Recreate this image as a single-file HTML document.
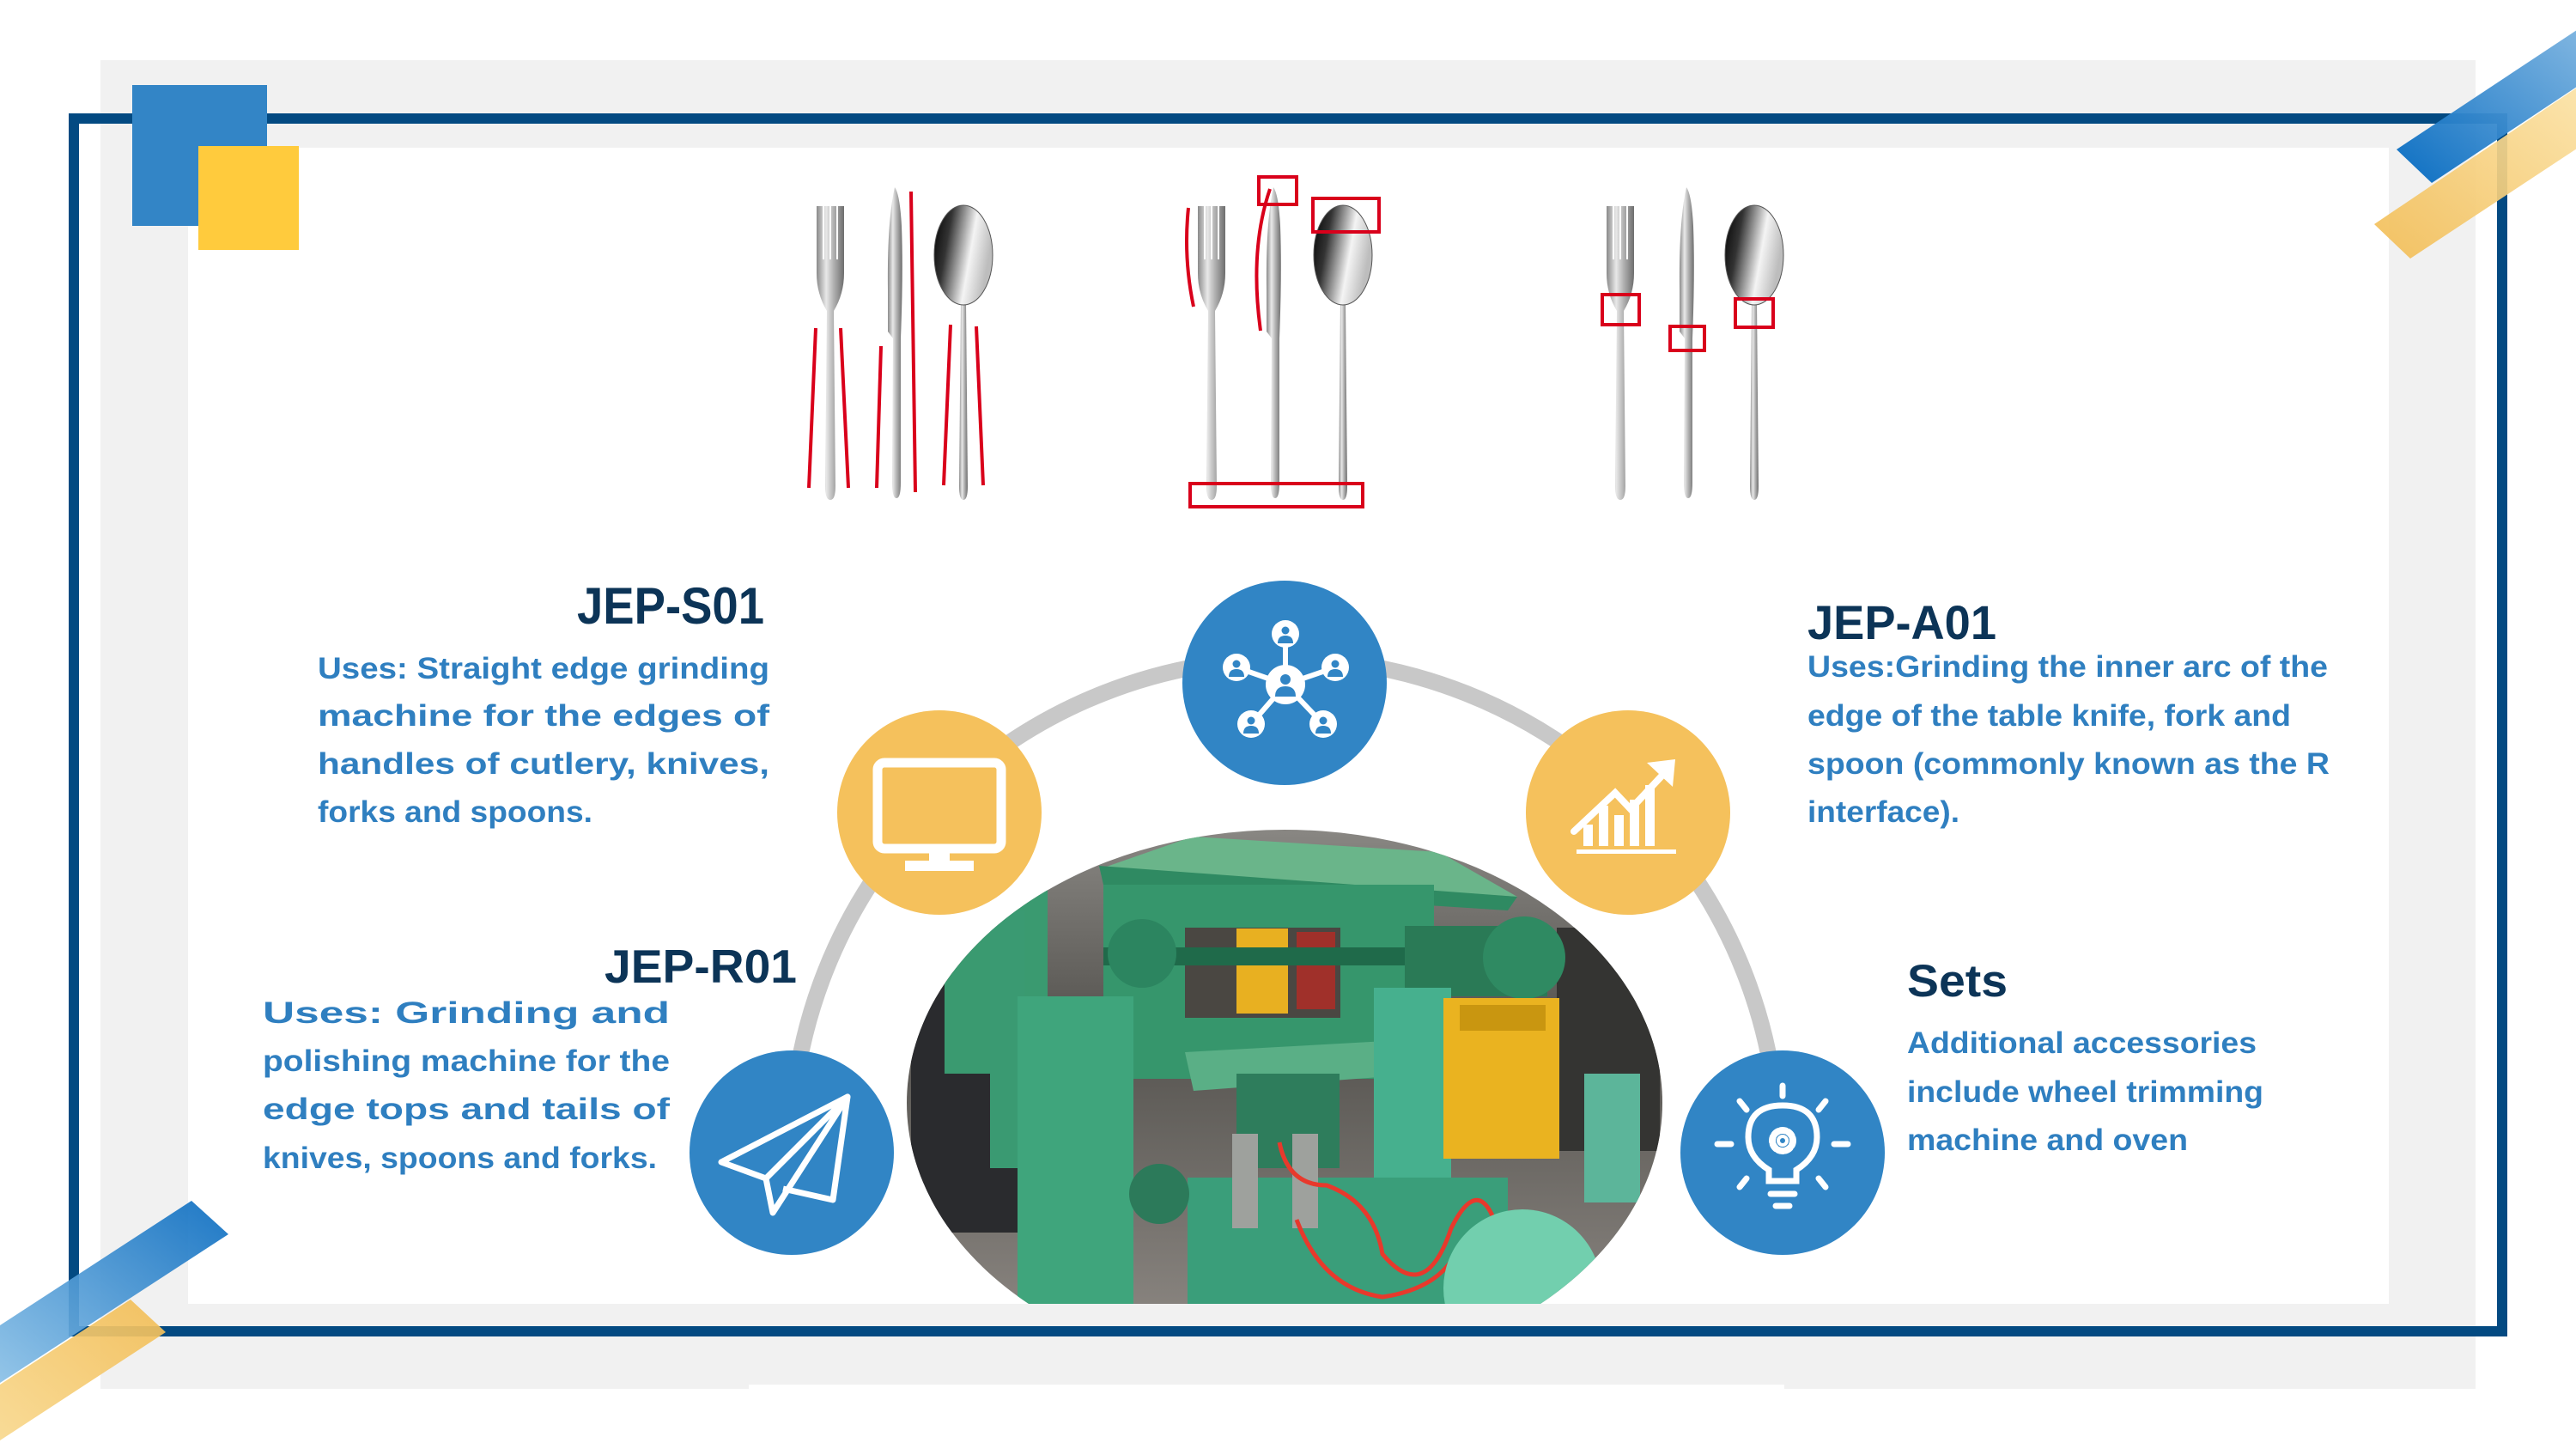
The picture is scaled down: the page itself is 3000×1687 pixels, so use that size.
<!DOCTYPE html>
<html><head><meta charset="utf-8"><style>html,body{margin:0;padding:0;background:#fff}svg{display:block}</style></head>
<body>
<svg width="3000" height="1687" viewBox="0 0 3000 1687" xmlns="http://www.w3.org/2000/svg" font-family="Liberation Sans, Arial, sans-serif" font-weight="bold">
<defs>
<linearGradient id="silver" x1="0" x2="1" y1="0" y2="0"><stop offset="0" stop-color="#8a8a8a"/><stop offset="0.35" stop-color="#e8e8e8"/><stop offset="0.6" stop-color="#b5b5b5"/><stop offset="1" stop-color="#6e6e6e"/></linearGradient>
<linearGradient id="bowl" x1="0" x2="1" y1="0" y2="0.3"><stop offset="0" stop-color="#000"/><stop offset="0.3" stop-color="#333"/><stop offset="0.7" stop-color="#f4f4f4"/><stop offset="1" stop-color="#bdbdbd"/></linearGradient>
<linearGradient id="bTR" x1="0" x2="1" y1="1" y2="0"><stop offset="0" stop-color="#0068c0"/><stop offset="1" stop-color="#7db4e0"/></linearGradient>
<linearGradient id="yTR" x1="0" x2="1" y1="1" y2="0"><stop offset="0" stop-color="#f2bd55"/><stop offset="1" stop-color="#fbe3a8"/></linearGradient>
<linearGradient id="bBL" x1="1" x2="0" y1="0" y2="1"><stop offset="0" stop-color="#0a6cc0"/><stop offset="1" stop-color="#8ac0e6"/></linearGradient>
<linearGradient id="yBL" x1="1" x2="0" y1="0" y2="1"><stop offset="0" stop-color="#f2bd55"/><stop offset="1" stop-color="#f8d88e"/></linearGradient>
<linearGradient id="floor" x1="0" x2="0" y1="0" y2="1"><stop offset="0" stop-color="#8a8884"/><stop offset="0.4" stop-color="#55534f"/><stop offset="1" stop-color="#8d8883"/></linearGradient>
<clipPath id="cl1"><rect x="0" y="0" width="3000" height="1518"/></clipPath>
<clipPath id="cl2"><ellipse cx="1496" cy="1284" rx="440" ry="318"/></clipPath>
<g id="f"><path d="M-16,0 L-16,78 Q-16,102 -4,122 L-6,326 Q-6,342 0,342 Q6,342 6,326 L4,122 Q16,102 16,78 L16,0 Z" fill="url(#silver)"/><rect x="-9" y="0" width="2" height="62" fill="#fff"/><rect x="-1" y="0" width="2" height="62" fill="#fff"/><rect x="7" y="0" width="2" height="62" fill="#fff"/></g>
<g id="k"><path d="M-2,0 Q-11,40 -10,120 L-10,168 L-4,176 L-5,344 Q-5,362 0,362 Q5,362 5,344 L5,176 Q8,100 6,45 Q4,8 -2,0 Z" fill="url(#silver)"/></g>
<g id="s"><path d="M-3,110 L-5,326 Q-5,342 0,342 Q5,342 5,326 L3,110 Z" fill="url(#silver)"/><ellipse cx="0" cy="57" rx="34" ry="58" fill="url(#bowl)" stroke="#555" stroke-width="1"/></g>
</defs>

<rect x="117" y="70" width="2766" height="1547" fill="#f1f1f1"/>
<rect x="872" y="1612" width="1206" height="8" fill="#fff"/>
<rect x="219" y="172" width="2563" height="1346" fill="#fff"/>
<rect x="86" y="138" width="2828" height="1412" fill="none" stroke="#034a82" stroke-width="12"/>
<rect x="154" y="99" width="157" height="164" fill="#3385c6"/>
<rect x="231" y="170" width="117" height="121" fill="#ffcb3d"/>

<polygon points="2791,174 2832,213 3010,95 3010,29" fill="url(#bTR)" opacity="0.95"/>
<polygon points="2765,261 2807,301 3010,167 3010,96" fill="url(#yTR)" opacity="0.92"/>
<polygon points="223,1398 266,1437 0,1610 0,1543" fill="url(#bBL)" opacity="0.92"/>
<polygon points="152,1513 193,1551 0,1677 0,1612" fill="url(#yBL)" opacity="0.92"/>

<use href="#f" transform="translate(967,240)"/>
<use href="#k" transform="translate(1044,218)"/>
<use href="#s" transform="translate(1122,240)"/>
<use href="#f" transform="translate(1411,240)"/>
<use href="#k" transform="translate(1485,218)"/>
<use href="#s" transform="translate(1564,240)"/>
<use href="#f" transform="translate(1887,240)"/>
<use href="#k" transform="translate(1966,218)"/>
<use href="#s" transform="translate(2043,240)"/>
<g stroke="#d9001b" stroke-width="4" fill="none">
<line x1="942" y1="568" x2="950" y2="382"/><line x1="988" y1="568" x2="979" y2="382"/>
<line x1="1021" y1="568" x2="1026" y2="403"/><line x1="1066" y1="573" x2="1061" y2="223"/>
<line x1="1099" y1="565" x2="1107" y2="378"/><line x1="1145" y1="565" x2="1137" y2="380"/>
<rect x="1466" y="206" width="44" height="32"/><rect x="1529" y="231" width="77" height="39"/>
<rect x="1386" y="563" width="201" height="27"/>
<path d="M1384,242 Q1378,300 1390,357"/><path d="M1479,220 Q1455,290 1468,385"/>
<rect x="1866" y="343" width="43" height="35"/><rect x="1945" y="380" width="40" height="28"/><rect x="2021" y="348" width="44" height="33"/>
</g>

<path d="M921,1342 A575,575 0 0 1 2071,1342" fill="none" stroke="#c8c8c8" stroke-width="19"/>

<g clip-path="url(#cl1)"><g clip-path="url(#cl2)">
<rect x="1050" y="960" width="900" height="600" fill="url(#floor)"/>
<rect x="1813" y="1080" width="120" height="260" fill="#343432"/>
<rect x="1061" y="1131" width="127" height="304" fill="#2a2b2e"/>
<rect x="1100" y="1020" width="120" height="230" fill="#3a9a70"/>
<polygon points="1389,974 1676,992 1767,1044 1280,1012" fill="#6ab58a"/>
<polygon points="1280,1008 1767,1044 1756,1060 1285,1030" fill="#2f8a62"/>
<rect x="1285" y="1030" width="385" height="226" fill="#36966c"/>
<rect x="1380" y="1080" width="181" height="105" fill="#4a4742"/>
<rect x="1440" y="1081" width="60" height="99" fill="#e8b021"/>
<rect x="1510" y="1085" width="45" height="90" fill="#a0302a"/>
<rect x="1153" y="1060" width="40" height="300" fill="#3a9a72"/>
<rect x="1185" y="1160" width="135" height="360" fill="#3fa57c"/>
<rect x="1285" y="1103" width="511" height="21" fill="#1f6a4a"/>
<circle cx="1330" cy="1110" r="40" fill="#2c8560"/>
<rect x="1636" y="1078" width="166" height="82" fill="#2a7a56"/>
<circle cx="1775" cy="1115" r="48" fill="#2f8a62"/>
<polygon points="1380,1225 1650,1210 1660,1250 1390,1270" fill="#5aaf86"/>
<rect x="1440" y="1250" width="120" height="110" fill="#2e7d5c"/>
<rect x="1600" y="1150" width="90" height="300" fill="#46b08e"/>
<rect x="1681" y="1162" width="135" height="187" fill="#eab320"/>
<rect x="1700" y="1170" width="100" height="30" fill="#c99610"/>
<rect x="1383" y="1371" width="373" height="150" fill="#3a9e7a"/>
<rect x="1435" y="1320" width="30" height="110" fill="#9ea19d"/>
<rect x="1505" y="1320" width="30" height="110" fill="#9ea19d"/>
<circle cx="1350" cy="1390" r="35" fill="#2c7a5a"/>
<path d="M1490,1330 Q1500,1380 1545,1380 Q1600,1400 1610,1460 Q1660,1520 1690,1430 Q1720,1370 1740,1420" fill="none" stroke="#e8392c" stroke-width="5"/>
<path d="M1510,1420 Q1540,1500 1610,1510 Q1680,1500 1700,1450" fill="none" stroke="#e8392c" stroke-width="5"/>
<rect x="1845" y="1250" width="65" height="150" fill="#5cb59a"/>
<circle cx="1773" cy="1500" r="92" fill="#72cfae"/>
</g></g>

<circle cx="1496" cy="795" r="119" fill="#3185c5"/>
<circle cx="1094" cy="946" r="119" fill="#f5c15c"/>
<circle cx="1896" cy="946" r="119" fill="#f5c15c"/>
<circle cx="922" cy="1342" r="119" fill="#3185c5"/>
<circle cx="2076" cy="1342" r="119" fill="#3185c5"/>

<g transform="translate(1497,797)">
<g stroke="#fff" stroke-width="6"><line x1="0" y1="0" x2="0" y2="-59"/><line x1="0" y1="0" x2="-57" y2="-20"/><line x1="0" y1="0" x2="58" y2="-20"/><line x1="0" y1="0" x2="-40" y2="46"/><line x1="0" y1="0" x2="44" y2="46"/></g>
<g fill="#fff"><circle r="23"/><circle cx="0" cy="-59" r="16"/><circle cx="-57" cy="-20" r="16"/><circle cx="58" cy="-20" r="16"/><circle cx="-40" cy="46" r="16"/><circle cx="44" cy="46" r="16"/></g>
<g fill="#3185c5">
<circle cx="0" cy="-6" r="6"/><path d="M-12,14 Q-12,2 0,2 Q12,2 12,14 Z"/>
<circle cx="0" cy="-63" r="4.5"/><path d="M-9,-48 Q-9,-57 0,-57 Q9,-57 9,-48 Z"/>
<circle cx="-57" cy="-24" r="4.5"/><path d="M-66,-9 Q-66,-18 -57,-18 Q-48,-18 -48,-9 Z"/>
<circle cx="58" cy="-24" r="4.5"/><path d="M49,-9 Q49,-18 58,-18 Q67,-18 67,-9 Z"/>
<circle cx="-40" cy="42" r="4.5"/><path d="M-49,57 Q-49,48 -40,48 Q-31,48 -31,57 Z"/>
<circle cx="44" cy="42" r="4.5"/><path d="M35,57 Q35,48 44,48 Q53,48 53,57 Z"/>
</g></g>

<g transform="translate(1094,946)" fill="#fff">
<rect x="-72" y="-58" width="144" height="100" rx="8" fill="none" stroke="#fff" stroke-width="11"/>
<rect x="-12" y="42" width="24" height="16"/><rect x="-40" y="56" width="80" height="12"/>
</g>

<g transform="translate(1896,946)" fill="#fff">
<rect x="-60" y="43" width="116" height="5"/>
<rect x="-52" y="14" width="11" height="25"/><rect x="-34" y="-8" width="11" height="47"/><rect x="-16" y="3" width="11" height="36"/><rect x="2" y="-15" width="11" height="54"/><rect x="20" y="-32" width="11" height="71"/>
<polyline points="-63,22 -15,-23 3,-4 48,-52" fill="none" stroke="#fff" stroke-width="8" stroke-linecap="round"/>
<polygon points="55,-62 52,-30 22,-58"/>
</g>

<g transform="translate(922,1342)" fill="none" stroke="#fff" stroke-width="7" stroke-linejoin="round">
<polygon points="65,-65 -82,11 -30,30"/>
<polyline points="-30,30 -22,70 65,-65 48,55 -10,42"/>
</g>

<g transform="translate(2076,1342)" fill="none" stroke="#fff" stroke-width="7" stroke-linecap="round">
<path d="M-16,33 L-16,20 Q-40,5 -40,-18 Q-40,-55 0,-55 Q40,-55 40,-18 Q40,5 16,20 L16,33 Z"/>
<line x1="-14" y1="48" x2="14" y2="48"/><line x1="-8" y1="62" x2="8" y2="62"/>
<line x1="0" y1="-78" x2="0" y2="-66"/><line x1="-76" y1="-10" x2="-60" y2="-10"/><line x1="60" y1="-10" x2="76" y2="-10"/>
<line x1="-50" y1="-60" x2="-42" y2="-50"/><line x1="50" y1="-60" x2="42" y2="-50"/>
<line x1="-50" y1="40" x2="-42" y2="30"/><line x1="50" y1="40" x2="42" y2="30"/>
<circle cx="0" cy="-14" r="12" stroke-width="8" stroke-dasharray="6 3"/>
<circle cx="0" cy="-14" r="5" stroke-width="4"/>
</g>

<g fill="#0c3457">
<text x="672" y="726" font-size="60" textLength="218" lengthAdjust="spacingAndGlyphs">JEP-S01</text>
<text x="2105" y="744" font-size="56" textLength="220" lengthAdjust="spacingAndGlyphs">JEP-A01</text>
<text x="704" y="1144" font-size="55" textLength="224" lengthAdjust="spacingAndGlyphs">JEP-R01</text>
<text x="2221" y="1160" font-size="53" textLength="117" lengthAdjust="spacingAndGlyphs">Sets</text>
</g>
<g fill="#2f7fc0" font-size="35">
<text x="370" y="790" textLength="526" lengthAdjust="spacingAndGlyphs">Uses: Straight edge grinding</text>
<text x="370" y="845" textLength="526" lengthAdjust="spacingAndGlyphs">machine for the edges of</text>
<text x="370" y="901" textLength="526" lengthAdjust="spacingAndGlyphs">handles of cutlery, knives,</text>
<text x="370" y="957" textLength="320" lengthAdjust="spacingAndGlyphs">forks and spoons.</text>

<text x="2105" y="788" textLength="606" lengthAdjust="spacingAndGlyphs">Uses:Grinding the inner arc of the</text>
<text x="2105" y="845" textLength="563" lengthAdjust="spacingAndGlyphs">edge of the table knife, fork and</text>
<text x="2105" y="901" textLength="608" lengthAdjust="spacingAndGlyphs">spoon (commonly known as the R</text>
<text x="2105" y="957" textLength="177" lengthAdjust="spacingAndGlyphs">interface).</text>

<text x="306" y="1191" textLength="474" lengthAdjust="spacingAndGlyphs">Uses: Grinding and</text>
<text x="306" y="1247" textLength="474" lengthAdjust="spacingAndGlyphs">polishing machine for the</text>
<text x="306" y="1303" textLength="474" lengthAdjust="spacingAndGlyphs">edge tops and tails of</text>
<text x="306" y="1360" textLength="459" lengthAdjust="spacingAndGlyphs">knives, spoons and forks.</text>

<text x="2221" y="1226" textLength="407" lengthAdjust="spacingAndGlyphs">Additional accessories</text>
<text x="2221" y="1283" textLength="415" lengthAdjust="spacingAndGlyphs">include wheel trimming</text>
<text x="2221" y="1339" textLength="327" lengthAdjust="spacingAndGlyphs">machine and oven</text>
</g>
</svg>
</body></html>
